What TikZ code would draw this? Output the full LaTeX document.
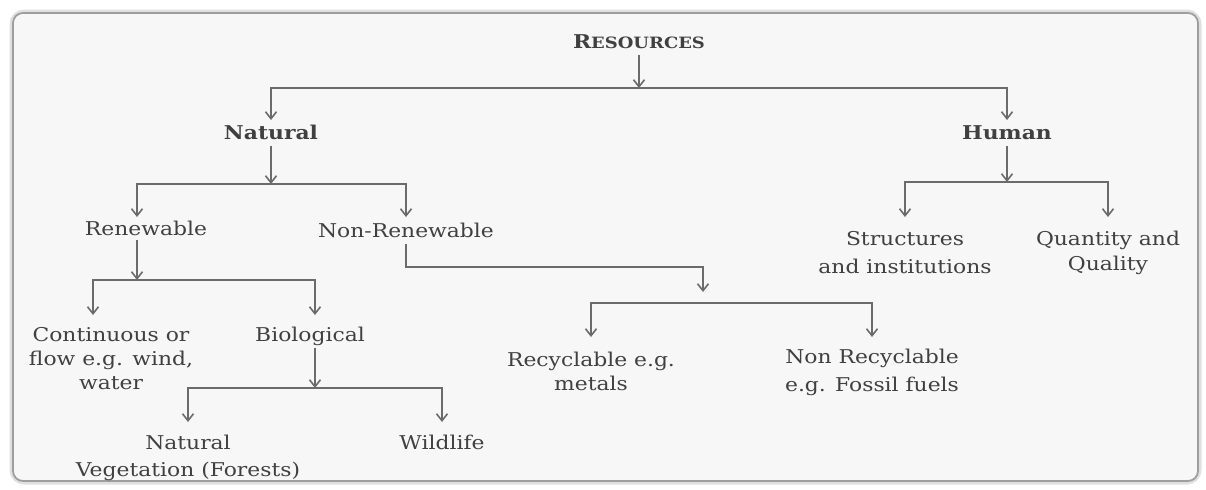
\documentclass[tikz,border=0pt]{standalone}
\usepackage{fontspec}
\setmainfont{DejaVu Serif}[FakeStretch=1.15]
\usetikzlibrary{arrows.meta}
\begin{document}
\begin{tikzpicture}[x=0.5pt,y=-0.5pt,
  txt/.style={inner sep=0pt, anchor=north, align=center, text=black!75,
    font=\fontsize{9.5pt}{13pt}\selectfont},
  bld/.style={txt, font=\fontsize{9.5pt}{13pt}\selectfont\bfseries},
  conn/.style={draw=black!58, line width=0.9pt},
  arr/.style={conn, -{Straight Barb[length=3.5pt,width=5.5pt,line width=0.8pt]}}]
\useasboundingbox (0,0) rectangle (1206,489);
% frame
\draw[line width=2.5pt, black!12, rounded corners=6pt] (12,12) rectangle (1199,482);
\draw[line width=0.9pt, black!38, fill=black!3, rounded corners=5pt] (13,13) rectangle (1198,481);
% nodes
\node[bld, outer sep=3pt] (res) at (639,29) {R{\fontsize{7.8pt}{10pt}\selectfont ESOURCES}};
\node[bld, outer sep=2.75pt] (nat) at (271,120) {Natural};
\node[bld, outer sep=3pt] (hum) at (1007,120) {Human};
\node[txt, outer sep=2pt] (ren) at (146,217) {Renewable};
\node[txt, outer sep=3pt] (nonren) at (406,217) {Non-Renewable};
\node[txt, outer sep=6pt, font=\fontsize{9.5pt}{12pt}\selectfont] (cont) at (111,315) {Continuous or\\flow e.g. wind,\\water};
\node[txt, outer sep=6pt] (bio) at (310,315) {Biological};
\node[txt, outer sep=6.5pt, font=\fontsize{9.5pt}{13.5pt}\selectfont] (natveg) at (188,422) {Natural\\Vegetation (Forests)};
\node[txt, outer sep=6.5pt] (wild) at (442,422) {Wildlife};
\node[txt, outer sep=7.5pt, font=\fontsize{9.5pt}{12pt}\selectfont] (recy) at (591,337) {Recyclable e.g.\\metals};
\node[txt, outer sep=6pt, font=\fontsize{9.5pt}{14pt}\selectfont] (nonrecy) at (872,337) {Non Recyclable\\e.g. Fossil fuels};
\node[txt, outer sep=7pt, font=\fontsize{9.5pt}{14pt}\selectfont] (struct) at (905,217) {Structures\\and institutions};
\node[txt, outer sep=7pt, font=\fontsize{9.5pt}{12.5pt}\selectfont] (quant) at (1108,217) {Quantity and\\Quality};
% junctions
\coordinate (jR) at (639,88);
\coordinate (jN) at (271,184);
\coordinate (jH) at (1007,182);
\coordinate (jRn) at (137,280);
\coordinate (jB) at (315,388);
\coordinate (kNR) at (703,267);
\coordinate (jNR) at (703,292);
\coordinate (lNR) at (703,303);
% connectors
\draw[arr] (res.south) -- (jR);
\draw[arr] (jR) -| (nat.north);
\draw[arr] (jR) -| (hum.north);
\draw[arr] (nat.south) -- (jN);
\draw[arr] (jN) -| ([xshift=-4.5pt]ren.north);
\draw[arr] (jN) -| (nonren.north);
\draw[arr] ([xshift=-4.5pt]ren.south) -- (jRn);
\draw[arr] (jRn) -| ([xshift=-9pt]cont.north);
\draw[arr] (jRn) -| ([xshift=2.5pt]bio.north);
\draw[arr, shorten <=-5pt] ([xshift=2.5pt]bio.south) -- (jB);
\draw[arr] (jB) -| (natveg.north);
\draw[arr] (jB) -| (wild.north);
\draw[arr] (nonren.south) |- (kNR) -- (jNR);
\draw[conn] (recy.north |- lNR) -- (nonrecy.north |- lNR);
\draw[arr] (lNR) -| (recy.north);
\draw[arr] (lNR) -| (nonrecy.north);
\draw[arr] (hum.south) -- (jH);
\draw[arr] (jH) -| (struct.north);
\draw[arr] (jH) -| (quant.north);
\end{tikzpicture}
\end{document}
